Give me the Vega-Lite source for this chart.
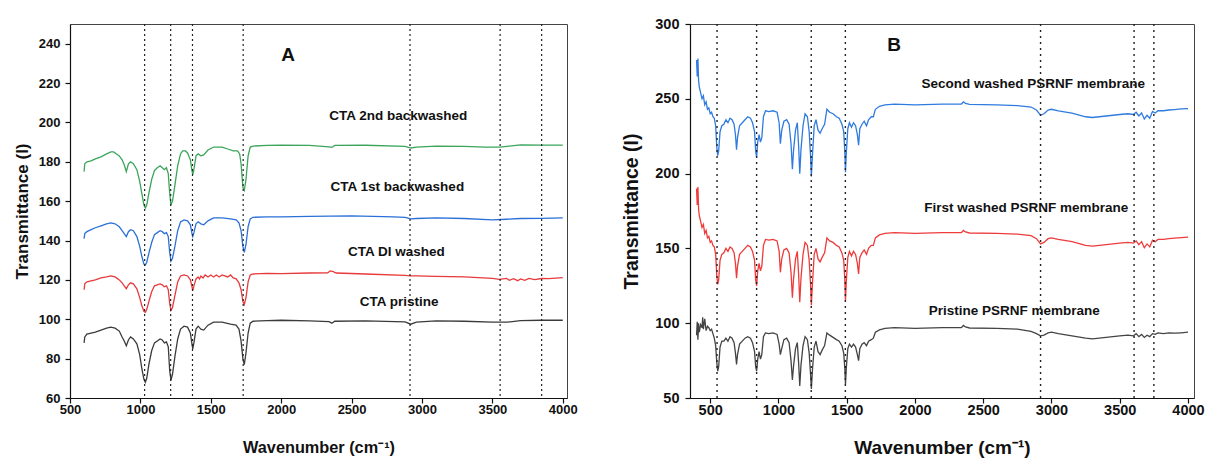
{
  "$schema": "https://vega.github.io/schema/vega-lite/v6.json",
  "padding": {"left": 12, "top": 15, "right": 0, "bottom": 0},
  "spacing": 43,
  "config": {
    "font": "Liberation Sans",
    "view": {"stroke": "#444444", "strokeWidth": 1},
    "axis": {"grid": false, "domainColor": "#111111", "tickColor": "#111111", "labelColor": "#111111", "titleColor": "#111111", "labelFontWeight": "bold", "titleFontWeight": "bold", "domainWidth": 1.2, "tickWidth": 1.2, "labelFlush": false}
  },
  "resolve": {"scale": {"color": "independent"}},
  "datasets": {
    "specA": [
      {"series":"pristine","wavenumber":600,"T":88},{"series":"pristine","wavenumber":605,"T":91},{"series":"pristine","wavenumber":620,"T":92.5},{"series":"pristine","wavenumber":650,"T":93},{"series":"pristine","wavenumber":680,"T":93.5},{"series":"pristine","wavenumber":720,"T":94.5},{"series":"pristine","wavenumber":760,"T":95.5},{"series":"pristine","wavenumber":790,"T":96},{"series":"pristine","wavenumber":820,"T":95.5},{"series":"pristine","wavenumber":850,"T":94},{"series":"pristine","wavenumber":870,"T":91},{"series":"pristine","wavenumber":885,"T":89},{"series":"pristine","wavenumber":900,"T":86.5},{"series":"pristine","wavenumber":915,"T":89.5},{"series":"pristine","wavenumber":930,"T":91},{"series":"pristine","wavenumber":950,"T":90},{"series":"pristine","wavenumber":975,"T":87.5},{"series":"pristine","wavenumber":995,"T":82},{"series":"pristine","wavenumber":1010,"T":75},{"series":"pristine","wavenumber":1025,"T":69.5},{"series":"pristine","wavenumber":1035,"T":68},{"series":"pristine","wavenumber":1045,"T":70},{"series":"pristine","wavenumber":1060,"T":77},{"series":"pristine","wavenumber":1080,"T":84},{"series":"pristine","wavenumber":1100,"T":88},{"series":"pristine","wavenumber":1120,"T":89},{"series":"pristine","wavenumber":1140,"T":90},{"series":"pristine","wavenumber":1155,"T":89.5},{"series":"pristine","wavenumber":1170,"T":88},{"series":"pristine","wavenumber":1185,"T":88.5},{"series":"pristine","wavenumber":1198,"T":86},{"series":"pristine","wavenumber":1208,"T":74},{"series":"pristine","wavenumber":1217,"T":69},{"series":"pristine","wavenumber":1228,"T":72},{"series":"pristine","wavenumber":1245,"T":81},{"series":"pristine","wavenumber":1265,"T":90},{"series":"pristine","wavenumber":1285,"T":95},{"series":"pristine","wavenumber":1310,"T":96.5},{"series":"pristine","wavenumber":1335,"T":96},{"series":"pristine","wavenumber":1355,"T":93},{"series":"pristine","wavenumber":1365,"T":88},{"series":"pristine","wavenumber":1372,"T":85},{"series":"pristine","wavenumber":1380,"T":88},{"series":"pristine","wavenumber":1395,"T":95},{"series":"pristine","wavenumber":1410,"T":96.5},{"series":"pristine","wavenumber":1430,"T":95},{"series":"pristine","wavenumber":1450,"T":94.5},{"series":"pristine","wavenumber":1480,"T":97},{"series":"pristine","wavenumber":1520,"T":98.5},{"series":"pristine","wavenumber":1580,"T":98.5},{"series":"pristine","wavenumber":1640,"T":97.5},{"series":"pristine","wavenumber":1680,"T":97},{"series":"pristine","wavenumber":1700,"T":95},{"series":"pristine","wavenumber":1715,"T":89},{"series":"pristine","wavenumber":1728,"T":80},{"series":"pristine","wavenumber":1738,"T":77},{"series":"pristine","wavenumber":1750,"T":83},{"series":"pristine","wavenumber":1765,"T":93},{"series":"pristine","wavenumber":1780,"T":98},{"series":"pristine","wavenumber":1800,"T":99},{"series":"pristine","wavenumber":1900,"T":99.3},{"series":"pristine","wavenumber":2000,"T":99.5},{"series":"pristine","wavenumber":2200,"T":99.2},{"series":"pristine","wavenumber":2340,"T":98.8},{"series":"pristine","wavenumber":2360,"T":98},{"series":"pristine","wavenumber":2380,"T":99},{"series":"pristine","wavenumber":2600,"T":99.2},{"series":"pristine","wavenumber":2880,"T":98.7},{"series":"pristine","wavenumber":2920,"T":97.5},{"series":"pristine","wavenumber":2960,"T":98.5},{"series":"pristine","wavenumber":3100,"T":99.2},{"series":"pristine","wavenumber":3300,"T":99},{"series":"pristine","wavenumber":3500,"T":98.5},{"series":"pristine","wavenumber":3600,"T":98.5},{"series":"pristine","wavenumber":3700,"T":99.3},{"series":"pristine","wavenumber":3850,"T":99.5},{"series":"pristine","wavenumber":4000,"T":99.5},
      {"series":"DI washed","wavenumber":600,"T":115},{"series":"DI washed","wavenumber":605,"T":118},{"series":"DI washed","wavenumber":620,"T":119},{"series":"DI washed","wavenumber":650,"T":119.5},{"series":"DI washed","wavenumber":680,"T":120},{"series":"DI washed","wavenumber":720,"T":121},{"series":"DI washed","wavenumber":760,"T":121.5},{"series":"DI washed","wavenumber":790,"T":122},{"series":"DI washed","wavenumber":820,"T":121.5},{"series":"DI washed","wavenumber":850,"T":120},{"series":"DI washed","wavenumber":870,"T":118.5},{"series":"DI washed","wavenumber":885,"T":117},{"series":"DI washed","wavenumber":900,"T":115.5},{"series":"DI washed","wavenumber":915,"T":117.5},{"series":"DI washed","wavenumber":930,"T":118.5},{"series":"DI washed","wavenumber":950,"T":118},{"series":"DI washed","wavenumber":975,"T":115.5},{"series":"DI washed","wavenumber":995,"T":111},{"series":"DI washed","wavenumber":1010,"T":107},{"series":"DI washed","wavenumber":1025,"T":104},{"series":"DI washed","wavenumber":1035,"T":103.5},{"series":"DI washed","wavenumber":1045,"T":105},{"series":"DI washed","wavenumber":1060,"T":109},{"series":"DI washed","wavenumber":1080,"T":114},{"series":"DI washed","wavenumber":1100,"T":117},{"series":"DI washed","wavenumber":1120,"T":117.5},{"series":"DI washed","wavenumber":1140,"T":118},{"series":"DI washed","wavenumber":1155,"T":117.5},{"series":"DI washed","wavenumber":1170,"T":116.5},{"series":"DI washed","wavenumber":1185,"T":117},{"series":"DI washed","wavenumber":1198,"T":115},{"series":"DI washed","wavenumber":1208,"T":108},{"series":"DI washed","wavenumber":1217,"T":104.5},{"series":"DI washed","wavenumber":1228,"T":106},{"series":"DI washed","wavenumber":1245,"T":112},{"series":"DI washed","wavenumber":1265,"T":119},{"series":"DI washed","wavenumber":1285,"T":122},{"series":"DI washed","wavenumber":1310,"T":122.5},{"series":"DI washed","wavenumber":1335,"T":122},{"series":"DI washed","wavenumber":1355,"T":120},{"series":"DI washed","wavenumber":1365,"T":117},{"series":"DI washed","wavenumber":1372,"T":114.5},{"series":"DI washed","wavenumber":1380,"T":117},{"series":"DI washed","wavenumber":1395,"T":120.5},{"series":"DI washed","wavenumber":1410,"T":121.5},{"series":"DI washed","wavenumber":1420,"T":120.5},{"series":"DI washed","wavenumber":1430,"T":122},{"series":"DI washed","wavenumber":1445,"T":121},{"series":"DI washed","wavenumber":1460,"T":122.5},{"series":"DI washed","wavenumber":1480,"T":121.5},{"series":"DI washed","wavenumber":1500,"T":122.5},{"series":"DI washed","wavenumber":1520,"T":121.5},{"series":"DI washed","wavenumber":1540,"T":122.5},{"series":"DI washed","wavenumber":1560,"T":121.5},{"series":"DI washed","wavenumber":1580,"T":122.5},{"series":"DI washed","wavenumber":1600,"T":122},{"series":"DI washed","wavenumber":1620,"T":121.5},{"series":"DI washed","wavenumber":1640,"T":122.5},{"series":"DI washed","wavenumber":1660,"T":121},{"series":"DI washed","wavenumber":1680,"T":120.5},{"series":"DI washed","wavenumber":1700,"T":118.5},{"series":"DI washed","wavenumber":1715,"T":115},{"series":"DI washed","wavenumber":1728,"T":109},{"series":"DI washed","wavenumber":1738,"T":107.5},{"series":"DI washed","wavenumber":1750,"T":111},{"series":"DI washed","wavenumber":1765,"T":119},{"series":"DI washed","wavenumber":1780,"T":122.5},{"series":"DI washed","wavenumber":1800,"T":123},{"series":"DI washed","wavenumber":1900,"T":123.3},{"series":"DI washed","wavenumber":2000,"T":123.2},{"series":"DI washed","wavenumber":2200,"T":123.5},{"series":"DI washed","wavenumber":2330,"T":123.6},{"series":"DI washed","wavenumber":2350,"T":124.6},{"series":"DI washed","wavenumber":2370,"T":124.2},{"series":"DI washed","wavenumber":2390,"T":123.5},{"series":"DI washed","wavenumber":2600,"T":123},{"series":"DI washed","wavenumber":2880,"T":122.3},{"series":"DI washed","wavenumber":2920,"T":122},{"series":"DI washed","wavenumber":2960,"T":122},{"series":"DI washed","wavenumber":3100,"T":121.8},{"series":"DI washed","wavenumber":3300,"T":121.5},{"series":"DI washed","wavenumber":3500,"T":120.8},{"series":"DI washed","wavenumber":3550,"T":120.3},{"series":"DI washed","wavenumber":3600,"T":120.8},{"series":"DI washed","wavenumber":3620,"T":119.8},{"series":"DI washed","wavenumber":3650,"T":120.6},{"series":"DI washed","wavenumber":3680,"T":119.6},{"series":"DI washed","wavenumber":3700,"T":120.5},{"series":"DI washed","wavenumber":3730,"T":119.8},{"series":"DI washed","wavenumber":3760,"T":120.8},{"series":"DI washed","wavenumber":3800,"T":120.1},{"series":"DI washed","wavenumber":3850,"T":120.7},{"series":"DI washed","wavenumber":3900,"T":120.6},{"series":"DI washed","wavenumber":4000,"T":121.2},
      {"series":"1st backwashed","wavenumber":600,"T":141},{"series":"1st backwashed","wavenumber":605,"T":143.5},{"series":"1st backwashed","wavenumber":620,"T":144.5},{"series":"1st backwashed","wavenumber":650,"T":145.5},{"series":"1st backwashed","wavenumber":680,"T":146.5},{"series":"1st backwashed","wavenumber":720,"T":147.5},{"series":"1st backwashed","wavenumber":760,"T":148.5},{"series":"1st backwashed","wavenumber":790,"T":149},{"series":"1st backwashed","wavenumber":820,"T":148.5},{"series":"1st backwashed","wavenumber":850,"T":147},{"series":"1st backwashed","wavenumber":870,"T":145},{"series":"1st backwashed","wavenumber":885,"T":143.5},{"series":"1st backwashed","wavenumber":900,"T":142},{"series":"1st backwashed","wavenumber":915,"T":144.5},{"series":"1st backwashed","wavenumber":930,"T":145.5},{"series":"1st backwashed","wavenumber":950,"T":145},{"series":"1st backwashed","wavenumber":975,"T":142},{"series":"1st backwashed","wavenumber":995,"T":137},{"series":"1st backwashed","wavenumber":1010,"T":132},{"series":"1st backwashed","wavenumber":1025,"T":128},{"series":"1st backwashed","wavenumber":1035,"T":127.5},{"series":"1st backwashed","wavenumber":1045,"T":129},{"series":"1st backwashed","wavenumber":1060,"T":133.5},{"series":"1st backwashed","wavenumber":1080,"T":139},{"series":"1st backwashed","wavenumber":1100,"T":143},{"series":"1st backwashed","wavenumber":1120,"T":144},{"series":"1st backwashed","wavenumber":1140,"T":145},{"series":"1st backwashed","wavenumber":1155,"T":144.5},{"series":"1st backwashed","wavenumber":1170,"T":143.5},{"series":"1st backwashed","wavenumber":1185,"T":144},{"series":"1st backwashed","wavenumber":1198,"T":142},{"series":"1st backwashed","wavenumber":1208,"T":134},{"series":"1st backwashed","wavenumber":1217,"T":129.5},{"series":"1st backwashed","wavenumber":1228,"T":131},{"series":"1st backwashed","wavenumber":1245,"T":137},{"series":"1st backwashed","wavenumber":1265,"T":145},{"series":"1st backwashed","wavenumber":1285,"T":149.5},{"series":"1st backwashed","wavenumber":1310,"T":150.5},{"series":"1st backwashed","wavenumber":1335,"T":150},{"series":"1st backwashed","wavenumber":1355,"T":148},{"series":"1st backwashed","wavenumber":1365,"T":144},{"series":"1st backwashed","wavenumber":1372,"T":142},{"series":"1st backwashed","wavenumber":1380,"T":144},{"series":"1st backwashed","wavenumber":1395,"T":148.5},{"series":"1st backwashed","wavenumber":1410,"T":149.5},{"series":"1st backwashed","wavenumber":1430,"T":148.5},{"series":"1st backwashed","wavenumber":1450,"T":148},{"series":"1st backwashed","wavenumber":1480,"T":150},{"series":"1st backwashed","wavenumber":1520,"T":151.5},{"series":"1st backwashed","wavenumber":1580,"T":151.5},{"series":"1st backwashed","wavenumber":1640,"T":151},{"series":"1st backwashed","wavenumber":1680,"T":150.5},{"series":"1st backwashed","wavenumber":1700,"T":149},{"series":"1st backwashed","wavenumber":1715,"T":145},{"series":"1st backwashed","wavenumber":1728,"T":137},{"series":"1st backwashed","wavenumber":1738,"T":134},{"series":"1st backwashed","wavenumber":1750,"T":138},{"series":"1st backwashed","wavenumber":1765,"T":147},{"series":"1st backwashed","wavenumber":1780,"T":151},{"series":"1st backwashed","wavenumber":1800,"T":151.8},{"series":"1st backwashed","wavenumber":1900,"T":152},{"series":"1st backwashed","wavenumber":2000,"T":152},{"series":"1st backwashed","wavenumber":2200,"T":152.3},{"series":"1st backwashed","wavenumber":2500,"T":152.5},{"series":"1st backwashed","wavenumber":2800,"T":152},{"series":"1st backwashed","wavenumber":2880,"T":151.8},{"series":"1st backwashed","wavenumber":2920,"T":151},{"series":"1st backwashed","wavenumber":2960,"T":151.2},{"series":"1st backwashed","wavenumber":3100,"T":151.5},{"series":"1st backwashed","wavenumber":3300,"T":151.2},{"series":"1st backwashed","wavenumber":3500,"T":150.5},{"series":"1st backwashed","wavenumber":3600,"T":150.8},{"series":"1st backwashed","wavenumber":3700,"T":151.2},{"series":"1st backwashed","wavenumber":3850,"T":151.3},{"series":"1st backwashed","wavenumber":4000,"T":151.5},
      {"series":"2nd backwashed","wavenumber":600,"T":175},{"series":"2nd backwashed","wavenumber":605,"T":179},{"series":"2nd backwashed","wavenumber":620,"T":180},{"series":"2nd backwashed","wavenumber":650,"T":180.5},{"series":"2nd backwashed","wavenumber":680,"T":181.5},{"series":"2nd backwashed","wavenumber":720,"T":182.5},{"series":"2nd backwashed","wavenumber":760,"T":184},{"series":"2nd backwashed","wavenumber":790,"T":185},{"series":"2nd backwashed","wavenumber":810,"T":185},{"series":"2nd backwashed","wavenumber":830,"T":184},{"series":"2nd backwashed","wavenumber":850,"T":183},{"series":"2nd backwashed","wavenumber":870,"T":181},{"series":"2nd backwashed","wavenumber":885,"T":178.5},{"series":"2nd backwashed","wavenumber":900,"T":175},{"series":"2nd backwashed","wavenumber":915,"T":179},{"series":"2nd backwashed","wavenumber":930,"T":180},{"series":"2nd backwashed","wavenumber":950,"T":179},{"series":"2nd backwashed","wavenumber":975,"T":176},{"series":"2nd backwashed","wavenumber":995,"T":170},{"series":"2nd backwashed","wavenumber":1010,"T":164},{"series":"2nd backwashed","wavenumber":1025,"T":158},{"series":"2nd backwashed","wavenumber":1035,"T":156.5},{"series":"2nd backwashed","wavenumber":1045,"T":158},{"series":"2nd backwashed","wavenumber":1060,"T":164},{"series":"2nd backwashed","wavenumber":1080,"T":171},{"series":"2nd backwashed","wavenumber":1100,"T":175.5},{"series":"2nd backwashed","wavenumber":1120,"T":177},{"series":"2nd backwashed","wavenumber":1140,"T":178},{"series":"2nd backwashed","wavenumber":1155,"T":177},{"series":"2nd backwashed","wavenumber":1170,"T":176},{"series":"2nd backwashed","wavenumber":1185,"T":177},{"series":"2nd backwashed","wavenumber":1198,"T":174},{"series":"2nd backwashed","wavenumber":1208,"T":164},{"series":"2nd backwashed","wavenumber":1217,"T":158},{"series":"2nd backwashed","wavenumber":1228,"T":160},{"series":"2nd backwashed","wavenumber":1245,"T":168},{"series":"2nd backwashed","wavenumber":1265,"T":178},{"series":"2nd backwashed","wavenumber":1285,"T":184},{"series":"2nd backwashed","wavenumber":1300,"T":185.5},{"series":"2nd backwashed","wavenumber":1320,"T":185.5},{"series":"2nd backwashed","wavenumber":1335,"T":184.5},{"series":"2nd backwashed","wavenumber":1355,"T":181},{"series":"2nd backwashed","wavenumber":1365,"T":176},{"series":"2nd backwashed","wavenumber":1372,"T":173.5},{"series":"2nd backwashed","wavenumber":1380,"T":176},{"series":"2nd backwashed","wavenumber":1395,"T":183},{"series":"2nd backwashed","wavenumber":1410,"T":184},{"series":"2nd backwashed","wavenumber":1430,"T":183},{"series":"2nd backwashed","wavenumber":1450,"T":183.5},{"series":"2nd backwashed","wavenumber":1480,"T":186},{"series":"2nd backwashed","wavenumber":1520,"T":187.5},{"series":"2nd backwashed","wavenumber":1580,"T":187.5},{"series":"2nd backwashed","wavenumber":1620,"T":186.5},{"series":"2nd backwashed","wavenumber":1660,"T":185.5},{"series":"2nd backwashed","wavenumber":1690,"T":185.5},{"series":"2nd backwashed","wavenumber":1705,"T":184},{"series":"2nd backwashed","wavenumber":1715,"T":179},{"series":"2nd backwashed","wavenumber":1728,"T":167},{"series":"2nd backwashed","wavenumber":1738,"T":165.5},{"series":"2nd backwashed","wavenumber":1750,"T":171},{"series":"2nd backwashed","wavenumber":1765,"T":183},{"series":"2nd backwashed","wavenumber":1780,"T":187.5},{"series":"2nd backwashed","wavenumber":1800,"T":188},{"series":"2nd backwashed","wavenumber":1900,"T":188.3},{"series":"2nd backwashed","wavenumber":2000,"T":188.5},{"series":"2nd backwashed","wavenumber":2200,"T":188.3},{"series":"2nd backwashed","wavenumber":2340,"T":187.6},{"series":"2nd backwashed","wavenumber":2360,"T":187.3},{"series":"2nd backwashed","wavenumber":2380,"T":188.3},{"series":"2nd backwashed","wavenumber":2600,"T":188.4},{"series":"2nd backwashed","wavenumber":2880,"T":187.8},{"series":"2nd backwashed","wavenumber":2920,"T":187},{"series":"2nd backwashed","wavenumber":2960,"T":187.4},{"series":"2nd backwashed","wavenumber":3100,"T":188},{"series":"2nd backwashed","wavenumber":3300,"T":187.8},{"series":"2nd backwashed","wavenumber":3450,"T":187.5},{"series":"2nd backwashed","wavenumber":3550,"T":187.4},{"series":"2nd backwashed","wavenumber":3620,"T":188},{"series":"2nd backwashed","wavenumber":3700,"T":188.6},{"series":"2nd backwashed","wavenumber":3850,"T":188.5},{"series":"2nd backwashed","wavenumber":4000,"T":188.5}
    ],
    "specB": [
      {"series":"second washed","wavenumber":400,"T":276},{"series":"second washed","wavenumber":405,"T":265},{"series":"second washed","wavenumber":410,"T":277},{"series":"second washed","wavenumber":415,"T":262},{"series":"second washed","wavenumber":420,"T":258},{"series":"second washed","wavenumber":430,"T":254},{"series":"second washed","wavenumber":440,"T":250},{"series":"second washed","wavenumber":450,"T":252},{"series":"second washed","wavenumber":460,"T":246},{"series":"second washed","wavenumber":470,"T":248},{"series":"second washed","wavenumber":480,"T":243},{"series":"second washed","wavenumber":490,"T":244},{"series":"second washed","wavenumber":500,"T":240},{"series":"second washed","wavenumber":510,"T":241},{"series":"second washed","wavenumber":520,"T":238},{"series":"second washed","wavenumber":530,"T":237},{"series":"second washed","wavenumber":540,"T":232},{"series":"second washed","wavenumber":548,"T":218},{"series":"second washed","wavenumber":555,"T":212},{"series":"second washed","wavenumber":562,"T":215},{"series":"second washed","wavenumber":572,"T":228},{"series":"second washed","wavenumber":585,"T":232},{"series":"second washed","wavenumber":600,"T":233},{"series":"second washed","wavenumber":615,"T":236},{"series":"second washed","wavenumber":630,"T":234},{"series":"second washed","wavenumber":645,"T":237},{"series":"second washed","wavenumber":660,"T":236},{"series":"second washed","wavenumber":675,"T":233},{"series":"second washed","wavenumber":685,"T":226},{"series":"second washed","wavenumber":693,"T":216},{"series":"second washed","wavenumber":700,"T":224},{"series":"second washed","wavenumber":715,"T":232},{"series":"second washed","wavenumber":735,"T":234},{"series":"second washed","wavenumber":755,"T":236},{"series":"second washed","wavenumber":775,"T":238},{"series":"second washed","wavenumber":795,"T":237},{"series":"second washed","wavenumber":810,"T":234},{"series":"second washed","wavenumber":825,"T":228},{"series":"second washed","wavenumber":833,"T":215},{"series":"second washed","wavenumber":840,"T":211},{"series":"second washed","wavenumber":848,"T":221},{"series":"second washed","wavenumber":858,"T":226},{"series":"second washed","wavenumber":868,"T":221},{"series":"second washed","wavenumber":878,"T":224},{"series":"second washed","wavenumber":890,"T":238},{"series":"second washed","wavenumber":905,"T":242},{"series":"second washed","wavenumber":930,"T":241.5},{"series":"second washed","wavenumber":960,"T":242},{"series":"second washed","wavenumber":990,"T":241},{"series":"second washed","wavenumber":1005,"T":234},{"series":"second washed","wavenumber":1014,"T":220},{"series":"second washed","wavenumber":1024,"T":229},{"series":"second washed","wavenumber":1040,"T":235},{"series":"second washed","wavenumber":1060,"T":236},{"series":"second washed","wavenumber":1078,"T":233},{"series":"second washed","wavenumber":1092,"T":220},{"series":"second washed","wavenumber":1102,"T":203},{"series":"second washed","wavenumber":1110,"T":215},{"series":"second washed","wavenumber":1125,"T":229},{"series":"second washed","wavenumber":1138,"T":234},{"series":"second washed","wavenumber":1148,"T":218},{"series":"second washed","wavenumber":1156,"T":200},{"series":"second washed","wavenumber":1165,"T":216},{"series":"second washed","wavenumber":1180,"T":232},{"series":"second washed","wavenumber":1195,"T":240},{"series":"second washed","wavenumber":1212,"T":238},{"series":"second washed","wavenumber":1225,"T":228},{"series":"second washed","wavenumber":1235,"T":212},{"series":"second washed","wavenumber":1241,"T":198},{"series":"second washed","wavenumber":1250,"T":214},{"series":"second washed","wavenumber":1262,"T":232},{"series":"second washed","wavenumber":1275,"T":236},{"series":"second washed","wavenumber":1290,"T":229},{"series":"second washed","wavenumber":1305,"T":227},{"series":"second washed","wavenumber":1320,"T":230},{"series":"second washed","wavenumber":1338,"T":233},{"series":"second washed","wavenumber":1355,"T":243},{"series":"second washed","wavenumber":1375,"T":241},{"series":"second washed","wavenumber":1400,"T":240},{"series":"second washed","wavenumber":1425,"T":238},{"series":"second washed","wavenumber":1445,"T":237},{"series":"second washed","wavenumber":1465,"T":233},{"series":"second washed","wavenumber":1478,"T":228},{"series":"second washed","wavenumber":1486,"T":215},{"series":"second washed","wavenumber":1491,"T":201},{"series":"second washed","wavenumber":1497,"T":214},{"series":"second washed","wavenumber":1508,"T":230},{"series":"second washed","wavenumber":1520,"T":234},{"series":"second washed","wavenumber":1535,"T":231},{"series":"second washed","wavenumber":1550,"T":234},{"series":"second washed","wavenumber":1565,"T":232},{"series":"second washed","wavenumber":1578,"T":226},{"series":"second washed","wavenumber":1587,"T":219},{"series":"second washed","wavenumber":1596,"T":230},{"series":"second washed","wavenumber":1612,"T":233},{"series":"second washed","wavenumber":1628,"T":235},{"series":"second washed","wavenumber":1645,"T":232},{"series":"second washed","wavenumber":1660,"T":236},{"series":"second washed","wavenumber":1680,"T":238},{"series":"second washed","wavenumber":1695,"T":238},{"series":"second washed","wavenumber":1710,"T":243},{"series":"second washed","wavenumber":1740,"T":245},{"series":"second washed","wavenumber":1780,"T":246},{"series":"second washed","wavenumber":1850,"T":246.5},{"series":"second washed","wavenumber":2000,"T":246},{"series":"second washed","wavenumber":2200,"T":246.5},{"series":"second washed","wavenumber":2340,"T":246.5},{"series":"second washed","wavenumber":2355,"T":248},{"series":"second washed","wavenumber":2370,"T":247},{"series":"second washed","wavenumber":2400,"T":246.3},{"series":"second washed","wavenumber":2600,"T":246},{"series":"second washed","wavenumber":2750,"T":245.5},{"series":"second washed","wavenumber":2850,"T":244.5},{"series":"second washed","wavenumber":2890,"T":242.5},{"series":"second washed","wavenumber":2920,"T":239},{"series":"second washed","wavenumber":2945,"T":240},{"series":"second washed","wavenumber":2975,"T":242.5},{"series":"second washed","wavenumber":3000,"T":243},{"series":"second washed","wavenumber":3050,"T":242},{"series":"second washed","wavenumber":3150,"T":240.5},{"series":"second washed","wavenumber":3250,"T":238},{"series":"second washed","wavenumber":3300,"T":237.5},{"series":"second washed","wavenumber":3400,"T":238.5},{"series":"second washed","wavenumber":3500,"T":239.5},{"series":"second washed","wavenumber":3560,"T":240},{"series":"second washed","wavenumber":3600,"T":239.5},{"series":"second washed","wavenumber":3620,"T":241},{"series":"second washed","wavenumber":3640,"T":238.5},{"series":"second washed","wavenumber":3660,"T":240.5},{"series":"second washed","wavenumber":3680,"T":236.5},{"series":"second washed","wavenumber":3700,"T":239},{"series":"second washed","wavenumber":3720,"T":237},{"series":"second washed","wavenumber":3740,"T":241.5},{"series":"second washed","wavenumber":3760,"T":240.5},{"series":"second washed","wavenumber":3780,"T":242},{"series":"second washed","wavenumber":3820,"T":242},{"series":"second washed","wavenumber":3860,"T":242.5},{"series":"second washed","wavenumber":3900,"T":242.8},{"series":"second washed","wavenumber":3950,"T":243.2},{"series":"second washed","wavenumber":4000,"T":243.5},
      {"series":"first washed","wavenumber":400,"T":190},{"series":"first washed","wavenumber":405,"T":179},{"series":"first washed","wavenumber":410,"T":191},{"series":"first washed","wavenumber":415,"T":176},{"series":"first washed","wavenumber":420,"T":172},{"series":"first washed","wavenumber":430,"T":168},{"series":"first washed","wavenumber":440,"T":164},{"series":"first washed","wavenumber":450,"T":166},{"series":"first washed","wavenumber":460,"T":160},{"series":"first washed","wavenumber":470,"T":162},{"series":"first washed","wavenumber":480,"T":157},{"series":"first washed","wavenumber":490,"T":158},{"series":"first washed","wavenumber":500,"T":154},{"series":"first washed","wavenumber":510,"T":155},{"series":"first washed","wavenumber":520,"T":152},{"series":"first washed","wavenumber":530,"T":151},{"series":"first washed","wavenumber":540,"T":146},{"series":"first washed","wavenumber":548,"T":132},{"series":"first washed","wavenumber":555,"T":126},{"series":"first washed","wavenumber":562,"T":129},{"series":"first washed","wavenumber":572,"T":142},{"series":"first washed","wavenumber":585,"T":146},{"series":"first washed","wavenumber":600,"T":147},{"series":"first washed","wavenumber":615,"T":150},{"series":"first washed","wavenumber":630,"T":148},{"series":"first washed","wavenumber":645,"T":151},{"series":"first washed","wavenumber":660,"T":150},{"series":"first washed","wavenumber":675,"T":147},{"series":"first washed","wavenumber":685,"T":140},{"series":"first washed","wavenumber":693,"T":130},{"series":"first washed","wavenumber":700,"T":138},{"series":"first washed","wavenumber":715,"T":146},{"series":"first washed","wavenumber":735,"T":148},{"series":"first washed","wavenumber":755,"T":150},{"series":"first washed","wavenumber":775,"T":152},{"series":"first washed","wavenumber":795,"T":151},{"series":"first washed","wavenumber":810,"T":148},{"series":"first washed","wavenumber":825,"T":142},{"series":"first washed","wavenumber":833,"T":129},{"series":"first washed","wavenumber":840,"T":125},{"series":"first washed","wavenumber":848,"T":135},{"series":"first washed","wavenumber":858,"T":140},{"series":"first washed","wavenumber":868,"T":135},{"series":"first washed","wavenumber":878,"T":138},{"series":"first washed","wavenumber":890,"T":152},{"series":"first washed","wavenumber":905,"T":156},{"series":"first washed","wavenumber":930,"T":155.5},{"series":"first washed","wavenumber":960,"T":156},{"series":"first washed","wavenumber":990,"T":155},{"series":"first washed","wavenumber":1005,"T":148},{"series":"first washed","wavenumber":1014,"T":134},{"series":"first washed","wavenumber":1024,"T":143},{"series":"first washed","wavenumber":1040,"T":149},{"series":"first washed","wavenumber":1060,"T":150},{"series":"first washed","wavenumber":1078,"T":147},{"series":"first washed","wavenumber":1092,"T":134},{"series":"first washed","wavenumber":1102,"T":117},{"series":"first washed","wavenumber":1110,"T":129},{"series":"first washed","wavenumber":1125,"T":143},{"series":"first washed","wavenumber":1138,"T":148},{"series":"first washed","wavenumber":1148,"T":132},{"series":"first washed","wavenumber":1156,"T":114},{"series":"first washed","wavenumber":1165,"T":130},{"series":"first washed","wavenumber":1180,"T":146},{"series":"first washed","wavenumber":1195,"T":154},{"series":"first washed","wavenumber":1212,"T":152},{"series":"first washed","wavenumber":1225,"T":142},{"series":"first washed","wavenumber":1235,"T":126},{"series":"first washed","wavenumber":1241,"T":112},{"series":"first washed","wavenumber":1250,"T":128},{"series":"first washed","wavenumber":1262,"T":146},{"series":"first washed","wavenumber":1275,"T":150},{"series":"first washed","wavenumber":1290,"T":143},{"series":"first washed","wavenumber":1305,"T":141},{"series":"first washed","wavenumber":1320,"T":144},{"series":"first washed","wavenumber":1338,"T":147},{"series":"first washed","wavenumber":1355,"T":157},{"series":"first washed","wavenumber":1375,"T":155},{"series":"first washed","wavenumber":1400,"T":154},{"series":"first washed","wavenumber":1425,"T":152},{"series":"first washed","wavenumber":1445,"T":151},{"series":"first washed","wavenumber":1465,"T":147},{"series":"first washed","wavenumber":1478,"T":142},{"series":"first washed","wavenumber":1486,"T":129},{"series":"first washed","wavenumber":1491,"T":115},{"series":"first washed","wavenumber":1497,"T":128},{"series":"first washed","wavenumber":1508,"T":144},{"series":"first washed","wavenumber":1520,"T":148},{"series":"first washed","wavenumber":1535,"T":145},{"series":"first washed","wavenumber":1550,"T":148},{"series":"first washed","wavenumber":1565,"T":146},{"series":"first washed","wavenumber":1578,"T":140},{"series":"first washed","wavenumber":1587,"T":133},{"series":"first washed","wavenumber":1596,"T":144},{"series":"first washed","wavenumber":1612,"T":147},{"series":"first washed","wavenumber":1628,"T":149},{"series":"first washed","wavenumber":1645,"T":146},{"series":"first washed","wavenumber":1660,"T":150},{"series":"first washed","wavenumber":1680,"T":152},{"series":"first washed","wavenumber":1695,"T":152},{"series":"first washed","wavenumber":1710,"T":157},{"series":"first washed","wavenumber":1740,"T":159},{"series":"first washed","wavenumber":1780,"T":160},{"series":"first washed","wavenumber":1850,"T":160.5},{"series":"first washed","wavenumber":2000,"T":160},{"series":"first washed","wavenumber":2200,"T":160.5},{"series":"first washed","wavenumber":2340,"T":160.5},{"series":"first washed","wavenumber":2355,"T":162},{"series":"first washed","wavenumber":2370,"T":161},{"series":"first washed","wavenumber":2400,"T":160.3},{"series":"first washed","wavenumber":2600,"T":160},{"series":"first washed","wavenumber":2750,"T":159.5},{"series":"first washed","wavenumber":2850,"T":158.5},{"series":"first washed","wavenumber":2890,"T":156.5},{"series":"first washed","wavenumber":2920,"T":153},{"series":"first washed","wavenumber":2945,"T":154},{"series":"first washed","wavenumber":2975,"T":156.5},{"series":"first washed","wavenumber":3000,"T":157},{"series":"first washed","wavenumber":3050,"T":156},{"series":"first washed","wavenumber":3150,"T":154.5},{"series":"first washed","wavenumber":3250,"T":152},{"series":"first washed","wavenumber":3300,"T":151.5},{"series":"first washed","wavenumber":3400,"T":152.5},{"series":"first washed","wavenumber":3500,"T":153.5},{"series":"first washed","wavenumber":3560,"T":154},{"series":"first washed","wavenumber":3600,"T":153.5},{"series":"first washed","wavenumber":3620,"T":155},{"series":"first washed","wavenumber":3640,"T":152.5},{"series":"first washed","wavenumber":3660,"T":154.5},{"series":"first washed","wavenumber":3680,"T":150.5},{"series":"first washed","wavenumber":3700,"T":153},{"series":"first washed","wavenumber":3720,"T":151},{"series":"first washed","wavenumber":3740,"T":155.5},{"series":"first washed","wavenumber":3760,"T":154.5},{"series":"first washed","wavenumber":3780,"T":156},{"series":"first washed","wavenumber":3820,"T":156},{"series":"first washed","wavenumber":3860,"T":156.5},{"series":"first washed","wavenumber":3900,"T":156.8},{"series":"first washed","wavenumber":3950,"T":157.2},{"series":"first washed","wavenumber":4000,"T":157.5},
      {"series":"pristine","wavenumber":400,"T":92},{"series":"pristine","wavenumber":405,"T":101},{"series":"pristine","wavenumber":410,"T":89},{"series":"pristine","wavenumber":415,"T":100},{"series":"pristine","wavenumber":420,"T":94},{"series":"pristine","wavenumber":430,"T":99},{"series":"pristine","wavenumber":440,"T":97},{"series":"pristine","wavenumber":445,"T":104},{"series":"pristine","wavenumber":450,"T":96},{"series":"pristine","wavenumber":460,"T":103},{"series":"pristine","wavenumber":470,"T":95},{"series":"pristine","wavenumber":480,"T":98},{"series":"pristine","wavenumber":490,"T":97},{"series":"pristine","wavenumber":500,"T":95},{"series":"pristine","wavenumber":510,"T":96},{"series":"pristine","wavenumber":520,"T":93},{"series":"pristine","wavenumber":530,"T":90},{"series":"pristine","wavenumber":540,"T":85},{"series":"pristine","wavenumber":548,"T":74},{"series":"pristine","wavenumber":555,"T":68},{"series":"pristine","wavenumber":562,"T":71},{"series":"pristine","wavenumber":572,"T":84},{"series":"pristine","wavenumber":585,"T":88},{"series":"pristine","wavenumber":600,"T":88},{"series":"pristine","wavenumber":615,"T":90},{"series":"pristine","wavenumber":630,"T":88},{"series":"pristine","wavenumber":645,"T":91},{"series":"pristine","wavenumber":660,"T":90},{"series":"pristine","wavenumber":675,"T":87},{"series":"pristine","wavenumber":685,"T":80},{"series":"pristine","wavenumber":693,"T":72.5},{"series":"pristine","wavenumber":700,"T":79},{"series":"pristine","wavenumber":715,"T":86},{"series":"pristine","wavenumber":735,"T":88},{"series":"pristine","wavenumber":755,"T":90},{"series":"pristine","wavenumber":775,"T":91},{"series":"pristine","wavenumber":795,"T":90},{"series":"pristine","wavenumber":810,"T":87},{"series":"pristine","wavenumber":825,"T":81},{"series":"pristine","wavenumber":833,"T":71},{"series":"pristine","wavenumber":840,"T":68},{"series":"pristine","wavenumber":848,"T":76},{"series":"pristine","wavenumber":858,"T":81},{"series":"pristine","wavenumber":868,"T":76},{"series":"pristine","wavenumber":878,"T":79},{"series":"pristine","wavenumber":890,"T":91},{"series":"pristine","wavenumber":905,"T":93.5},{"series":"pristine","wavenumber":930,"T":93},{"series":"pristine","wavenumber":960,"T":93.5},{"series":"pristine","wavenumber":990,"T":92.5},{"series":"pristine","wavenumber":1005,"T":86},{"series":"pristine","wavenumber":1014,"T":79},{"series":"pristine","wavenumber":1024,"T":83},{"series":"pristine","wavenumber":1040,"T":89},{"series":"pristine","wavenumber":1060,"T":90},{"series":"pristine","wavenumber":1078,"T":87},{"series":"pristine","wavenumber":1092,"T":75},{"series":"pristine","wavenumber":1102,"T":62},{"series":"pristine","wavenumber":1110,"T":71},{"series":"pristine","wavenumber":1125,"T":83},{"series":"pristine","wavenumber":1138,"T":87},{"series":"pristine","wavenumber":1148,"T":73},{"series":"pristine","wavenumber":1156,"T":58},{"series":"pristine","wavenumber":1165,"T":72},{"series":"pristine","wavenumber":1180,"T":85},{"series":"pristine","wavenumber":1195,"T":91},{"series":"pristine","wavenumber":1212,"T":89},{"series":"pristine","wavenumber":1225,"T":80},{"series":"pristine","wavenumber":1235,"T":66},{"series":"pristine","wavenumber":1241,"T":56},{"series":"pristine","wavenumber":1250,"T":70},{"series":"pristine","wavenumber":1262,"T":84},{"series":"pristine","wavenumber":1275,"T":88},{"series":"pristine","wavenumber":1290,"T":81},{"series":"pristine","wavenumber":1305,"T":79},{"series":"pristine","wavenumber":1320,"T":82},{"series":"pristine","wavenumber":1338,"T":85},{"series":"pristine","wavenumber":1355,"T":93.5},{"series":"pristine","wavenumber":1375,"T":92},{"series":"pristine","wavenumber":1400,"T":90.5},{"series":"pristine","wavenumber":1425,"T":89},{"series":"pristine","wavenumber":1445,"T":88},{"series":"pristine","wavenumber":1465,"T":85},{"series":"pristine","wavenumber":1478,"T":80},{"series":"pristine","wavenumber":1486,"T":70},{"series":"pristine","wavenumber":1491,"T":59},{"series":"pristine","wavenumber":1497,"T":70},{"series":"pristine","wavenumber":1508,"T":83},{"series":"pristine","wavenumber":1520,"T":86},{"series":"pristine","wavenumber":1535,"T":84},{"series":"pristine","wavenumber":1550,"T":86},{"series":"pristine","wavenumber":1565,"T":84},{"series":"pristine","wavenumber":1578,"T":79},{"series":"pristine","wavenumber":1587,"T":75},{"series":"pristine","wavenumber":1596,"T":83},{"series":"pristine","wavenumber":1612,"T":86},{"series":"pristine","wavenumber":1628,"T":87},{"series":"pristine","wavenumber":1645,"T":85},{"series":"pristine","wavenumber":1660,"T":88},{"series":"pristine","wavenumber":1680,"T":89},{"series":"pristine","wavenumber":1695,"T":90},{"series":"pristine","wavenumber":1710,"T":94},{"series":"pristine","wavenumber":1740,"T":95.5},{"series":"pristine","wavenumber":1780,"T":96.5},{"series":"pristine","wavenumber":1850,"T":97},{"series":"pristine","wavenumber":2000,"T":96.5},{"series":"pristine","wavenumber":2200,"T":97},{"series":"pristine","wavenumber":2340,"T":97},{"series":"pristine","wavenumber":2355,"T":98.5},{"series":"pristine","wavenumber":2370,"T":97.5},{"series":"pristine","wavenumber":2400,"T":96.8},{"series":"pristine","wavenumber":2600,"T":96.5},{"series":"pristine","wavenumber":2750,"T":96},{"series":"pristine","wavenumber":2850,"T":94.5},{"series":"pristine","wavenumber":2890,"T":93},{"series":"pristine","wavenumber":2920,"T":91.5},{"series":"pristine","wavenumber":2945,"T":92},{"series":"pristine","wavenumber":2975,"T":93.5},{"series":"pristine","wavenumber":3000,"T":94},{"series":"pristine","wavenumber":3050,"T":93},{"series":"pristine","wavenumber":3150,"T":91.5},{"series":"pristine","wavenumber":3250,"T":90},{"series":"pristine","wavenumber":3300,"T":89.5},{"series":"pristine","wavenumber":3400,"T":90.5},{"series":"pristine","wavenumber":3500,"T":91.5},{"series":"pristine","wavenumber":3560,"T":92},{"series":"pristine","wavenumber":3600,"T":91.5},{"series":"pristine","wavenumber":3620,"T":93},{"series":"pristine","wavenumber":3640,"T":91},{"series":"pristine","wavenumber":3660,"T":92.5},{"series":"pristine","wavenumber":3680,"T":90.5},{"series":"pristine","wavenumber":3700,"T":92},{"series":"pristine","wavenumber":3720,"T":91},{"series":"pristine","wavenumber":3740,"T":93},{"series":"pristine","wavenumber":3760,"T":92.5},{"series":"pristine","wavenumber":3780,"T":93.5},{"series":"pristine","wavenumber":3820,"T":93},{"series":"pristine","wavenumber":3860,"T":93.5},{"series":"pristine","wavenumber":3900,"T":93.3},{"series":"pristine","wavenumber":3950,"T":93.6},{"series":"pristine","wavenumber":4000,"T":94}
    ],
    "bandsA": [{"wavenumber":1030},{"wavenumber":1215},{"wavenumber":1370},{"wavenumber":1730},{"wavenumber":2915},{"wavenumber":3555},{"wavenumber":3850}],
    "bandsB": [{"wavenumber":550},{"wavenumber":840},{"wavenumber":1240},{"wavenumber":1490},{"wavenumber":2920},{"wavenumber":3605},{"wavenumber":3750}],
    "labelsA": [
      {"label":"A","wavenumber":2050,"T":234,"kind":"panel"},
      {"label":"CTA 2nd backwashed","wavenumber":2832,"T":203.5,"kind":"series"},
      {"label":"CTA 1st backwashed","wavenumber":2825,"T":167,"kind":"series"},
      {"label":"CTA DI washed","wavenumber":2818,"T":134.2,"kind":"series"},
      {"label":"CTA pristine","wavenumber":2838,"T":108.8,"kind":"series"}
    ],
    "labelsB": [
      {"label":"B","wavenumber":1848,"T":286,"kind":"panel"},
      {"label":"Second washed PSRNF membrane","wavenumber":2866,"T":260,"kind":"series"},
      {"label":"First washed PSRNF membrane","wavenumber":2815,"T":177.3,"kind":"series"},
      {"label":"Pristine PSRNF membrane","wavenumber":2727,"T":108,"kind":"series"}
    ]
  },
  "hconcat": [
    {
      "width": 497,
      "height": 374,
      "layer": [
        {
          "data": {"name": "specA"},
          "mark": {"type": "line", "strokeWidth": 1.3, "interpolate": "linear"},
          "encoding": {
            "x": {"field": "wavenumber", "type": "quantitative", "scale": {"domain": [500, 4030], "nice": false, "zero": false},
                  "axis": {"title": "Wavenumber (cm⁻¹)", "values": [500,750,1000,1250,1500,1750,2000,2250,2500,2750,3000,3250,3500,3750,4000],
                           "labelExpr": "datum.value % 500 == 0 ? format(datum.value, 'd') : ''",
                           "tickSize": {"condition": {"test": "datum.value % 500 == 0", "value": 5}, "value": 3},
                           "labelFontSize": 13, "titleFontSize": 16.3, "labelPadding": 0, "titlePadding": 23, "labelOverlap": false}},
            "y": {"field": "T", "type": "quantitative", "scale": {"domain": [60, 250], "nice": false, "zero": false},
                  "axis": {"title": "Transmittance (I)", "values": [60,70,80,90,100,110,120,130,140,150,160,170,180,190,200,210,220,230,240,250],
                           "labelExpr": "datum.value % 20 == 0 && datum.value < 250 ? format(datum.value, 'd') : ''",
                           "tickSize": {"condition": {"test": "datum.value % 20 == 0", "value": 5}, "value": 3},
                           "labelFontSize": 13, "titleFontSize": 17, "labelPadding": 5, "titlePadding": 7, "labelOverlap": false}},
            "color": {"field": "series", "type": "nominal", "legend": null,
                      "scale": {"domain": ["pristine","DI washed","1st backwashed","2nd backwashed"], "range": ["#3b3b3b","#e8393b","#2b70d8","#3aa55b"]}}
          }
        },
        {
          "data": {"name": "bandsA"},
          "mark": {"type": "rule", "strokeDash": [2, 3], "strokeWidth": 1.2, "color": "#222222"},
          "encoding": {
            "x": {"field": "wavenumber", "type": "quantitative"}
          }
        },
        {
          "data": {"name": "labelsA"},
          "mark": {"type": "text", "fontWeight": "bold", "font": "Liberation Sans", "color": "#111111"},
          "encoding": {
            "x": {"field": "wavenumber", "type": "quantitative"},
            "y": {"field": "T", "type": "quantitative"},
            "text": {"field": "label"},
            "size": {"field": "kind", "type": "nominal", "legend": null, "scale": {"domain": ["panel","series"], "range": [19, 13.5]}}
          }
        }
      ]
    },
    {
      "width": 504,
      "height": 374,
      "layer": [
        {
          "data": {"name": "specB"},
          "mark": {"type": "line", "strokeWidth": 1.3, "interpolate": "linear"},
          "encoding": {
            "x": {"field": "wavenumber", "type": "quantitative", "scale": {"domain": [352, 4044], "nice": false, "zero": false},
                  "axis": {"title": "Wavenumber (cm⁻¹)", "values": [500,750,1000,1250,1500,1750,2000,2250,2500,2750,3000,3250,3500,3750,4000],
                           "labelExpr": "datum.value % 500 == 0 ? format(datum.value, 'd') : ''",
                           "tickSize": {"condition": {"test": "datum.value % 500 == 0", "value": 5}, "value": 3},
                           "labelFontSize": 14.5, "titleFontSize": 19, "labelPadding": 0, "titlePadding": 22, "labelOverlap": false}},
            "y": {"field": "T", "type": "quantitative", "scale": {"domain": [50, 300], "nice": false, "zero": false},
                  "axis": {"title": "Transmittance (I)", "values": [50,75,100,125,150,175,200,225,250,275,300],
                           "labelExpr": "datum.value % 50 == 0 ? format(datum.value, 'd') : ''",
                           "tickSize": {"condition": {"test": "datum.value % 50 == 0", "value": 5}, "value": 3},
                           "labelFontSize": 14.5, "titleFontSize": 19.5, "labelPadding": 6, "titlePadding": 13, "labelOverlap": false}},
            "color": {"field": "series", "type": "nominal", "legend": null,
                      "scale": {"domain": ["pristine","first washed","second washed"], "range": ["#444444","#ee3b3b","#2f7be0"]}}
          }
        },
        {
          "data": {"name": "bandsB"},
          "mark": {"type": "rule", "strokeDash": [2, 4], "strokeWidth": 1.4, "color": "#222222"},
          "encoding": {
            "x": {"field": "wavenumber", "type": "quantitative"}
          }
        },
        {
          "data": {"name": "labelsB"},
          "mark": {"type": "text", "fontWeight": "bold", "font": "Liberation Sans", "color": "#111111"},
          "encoding": {
            "x": {"field": "wavenumber", "type": "quantitative"},
            "y": {"field": "T", "type": "quantitative"},
            "text": {"field": "label"},
            "size": {"field": "kind", "type": "nominal", "legend": null, "scale": {"domain": ["panel","series"], "range": [21, 16]}}
          }
        }
      ]
    }
  ]
}
